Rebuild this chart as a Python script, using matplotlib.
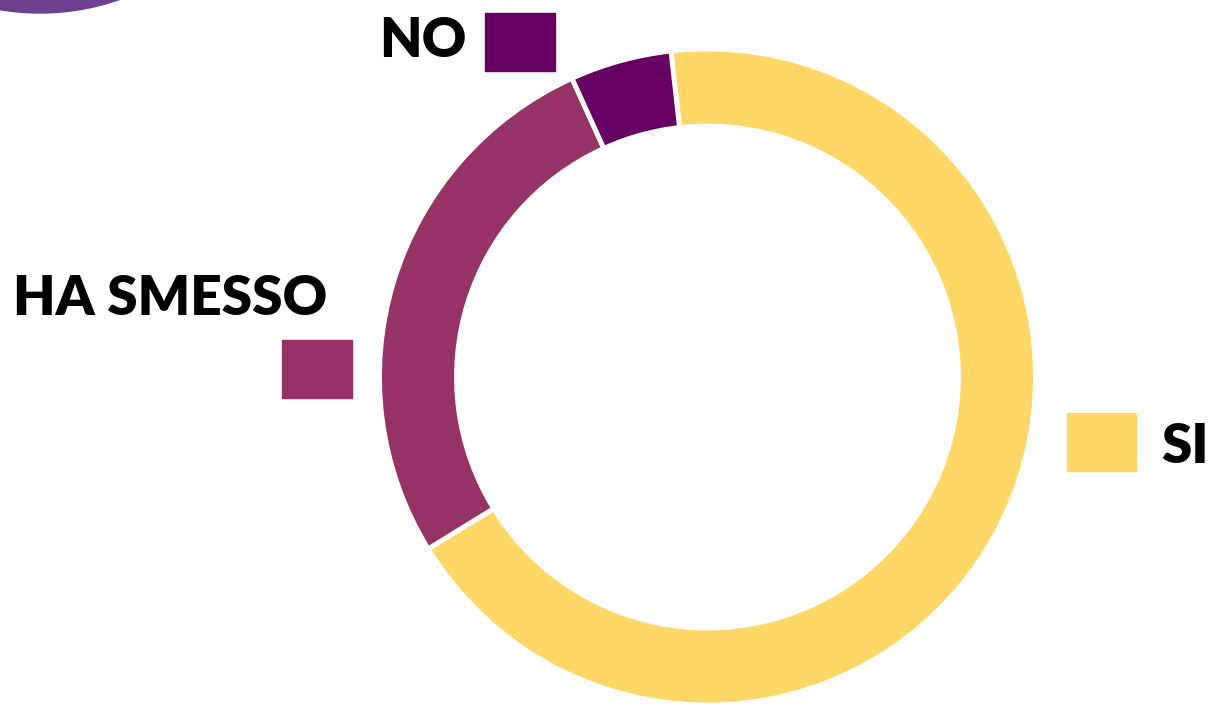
'''Donut chart: SI / HA SMESSO / NO.'''
import matplotlib.pyplot as plt
from matplotlib.patches import Rectangle, Circle

W, H = 1211, 704

LABELS = ['SI', 'HA SMESSO', 'NO']
VALUES = [68, 27, 5]
COLORS = ['#FED766', '#963264', '#660062']

FONT = 'Lato'
FONT_SIZE = 39.5


def main():
    '''Main.'''
    fig = plt.figure(figsize=(W / 100, H / 100), dpi=100)
    ax = fig.add_axes([0, 0, 1, 1])

    # ring, clockwise from just left of 12 o'clock
    ax.pie(VALUES, colors=COLORS, startangle=96.4, counterclock=False,
           center=(707.5, H - 377), radius=328,
           wedgeprops={'width': 77, 'edgecolor': 'white', 'linewidth': 3.5})

    ax.set_xlim(0, W)
    ax.set_ylim(0, H)
    ax.set_aspect('equal')
    ax.axis('off')

    # decorative circle clipped in top-left corner
    ax.add_patch(Circle((40, H + 228), 241, color='#6B4190', zorder=0))

    # labels with colour squares
    ax.text(379, H - 57, LABELS[2], fontsize=FONT_SIZE, fontweight='heavy',
            family=FONT, va='baseline')
    ax.add_patch(Rectangle((485, H - 71), 70, 58, color=COLORS[2]))

    ax.text(13, H - 315, LABELS[1], fontsize=FONT_SIZE, fontweight='heavy',
            family=FONT, va='baseline')
    ax.add_patch(Rectangle((282, H - 398), 70, 58, color=COLORS[1]))

    ax.text(1161, H - 463, LABELS[0], fontsize=FONT_SIZE, fontweight='heavy',
            family=FONT, va='baseline')
    ax.add_patch(Rectangle((1067, H - 471), 69, 58, color=COLORS[0]))

    fig.savefig('out.png', dpi=100)


if __name__ == "__main__":
    main()
